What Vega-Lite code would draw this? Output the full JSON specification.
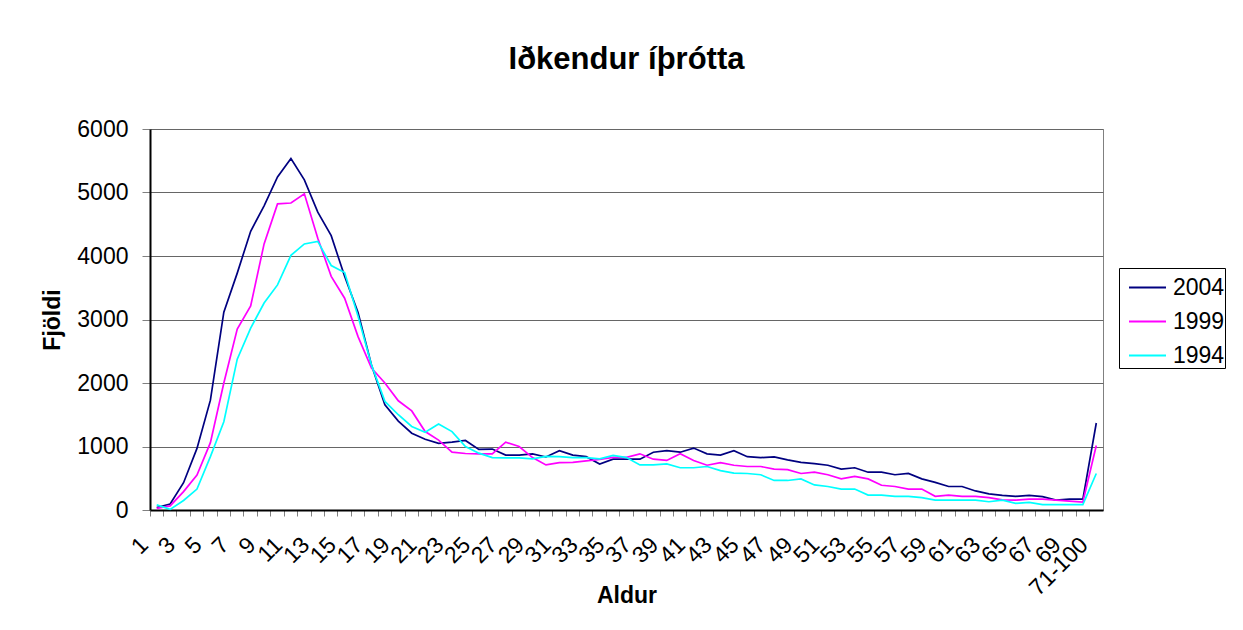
{
  "$schema": "https://vega.github.io/schema/vega-lite/v6.json",
  "width": 953,
  "height": 381,
  "autosize": "none",
  "padding": {"left": 150, "top": 129, "right": 140, "bottom": 120},
  "background": "white",
  "config": {
    "font": "Liberation Sans",
    "view": {"stroke": "#808080", "strokeWidth": 1}
  },
  "title": {
    "text": "Iðkendur íþrótta",
    "font": "Liberation Sans",
    "fontSize": 31,
    "fontWeight": "bold",
    "color": "black",
    "anchor": "middle",
    "baseline": "alphabetic",
    "offset": 18
  },
  "data": {
    "values": [
      {"Aldur": "1", "2004": 40, "1999": 25, "1994": 80},
      {"Aldur": "2", "2004": 95, "1999": 65, "1994": 10},
      {"Aldur": "3", "2004": 430, "1999": 290, "1994": 150},
      {"Aldur": "4", "2004": 970, "1999": 550, "1994": 330},
      {"Aldur": "5", "2004": 1730, "1999": 1060, "1994": 840},
      {"Aldur": "6", "2004": 3115, "1999": 2000, "1994": 1390},
      {"Aldur": "7", "2004": 3730, "1999": 2850, "1994": 2375},
      {"Aldur": "8", "2004": 4390, "1999": 3215, "1994": 2865},
      {"Aldur": "9", "2004": 4790, "1999": 4190, "1994": 3260},
      {"Aldur": "10", "2004": 5245, "1999": 4820, "1994": 3545},
      {"Aldur": "11", "2004": 5535, "1999": 4835, "1994": 4010},
      {"Aldur": "12", "2004": 5200, "1999": 4980, "1994": 4190},
      {"Aldur": "13", "2004": 4690, "1999": 4280, "1994": 4230},
      {"Aldur": "14", "2004": 4320, "1999": 3680, "1994": 3850},
      {"Aldur": "15", "2004": 3680, "1999": 3335, "1994": 3740},
      {"Aldur": "16", "2004": 3110, "1999": 2730, "1994": 3050},
      {"Aldur": "17", "2004": 2285, "1999": 2235, "1994": 2285},
      {"Aldur": "18", "2004": 1655, "1999": 2000, "1994": 1710},
      {"Aldur": "19", "2004": 1400, "1999": 1720, "1994": 1500},
      {"Aldur": "20", "2004": 1210, "1999": 1560, "1994": 1315},
      {"Aldur": "21", "2004": 1115, "1999": 1235, "1994": 1225},
      {"Aldur": "22", "2004": 1050, "1999": 1100, "1994": 1355},
      {"Aldur": "23", "2004": 1070, "1999": 910, "1994": 1235},
      {"Aldur": "24", "2004": 1095, "1999": 890, "1994": 1000},
      {"Aldur": "25", "2004": 955, "1999": 885, "1994": 895},
      {"Aldur": "26", "2004": 960, "1999": 885, "1994": 825},
      {"Aldur": "27", "2004": 865, "1999": 1068, "1994": 820},
      {"Aldur": "28", "2004": 865, "1999": 1000, "1994": 820},
      {"Aldur": "29", "2004": 885, "1999": 825, "1994": 805},
      {"Aldur": "30", "2004": 835, "1999": 710, "1994": 845},
      {"Aldur": "31", "2004": 935, "1999": 745, "1994": 840},
      {"Aldur": "32", "2004": 865, "1999": 750, "1994": 825},
      {"Aldur": "33", "2004": 840, "1999": 775, "1994": 825},
      {"Aldur": "34", "2004": 725, "1999": 795, "1994": 805},
      {"Aldur": "35", "2004": 800, "1999": 830, "1994": 860},
      {"Aldur": "36", "2004": 800, "1999": 830, "1994": 825},
      {"Aldur": "37", "2004": 800, "1999": 885, "1994": 710},
      {"Aldur": "38", "2004": 910, "1999": 800, "1994": 710},
      {"Aldur": "39", "2004": 935, "1999": 780, "1994": 725},
      {"Aldur": "40", "2004": 910, "1999": 885, "1994": 665},
      {"Aldur": "41", "2004": 975, "1999": 780, "1994": 665},
      {"Aldur": "42", "2004": 885, "1999": 705, "1994": 685},
      {"Aldur": "43", "2004": 865, "1999": 745, "1994": 620},
      {"Aldur": "44", "2004": 935, "1999": 705, "1994": 580},
      {"Aldur": "45", "2004": 840, "1999": 685, "1994": 575},
      {"Aldur": "46", "2004": 825, "1999": 685, "1994": 555},
      {"Aldur": "47", "2004": 835, "1999": 645, "1994": 465},
      {"Aldur": "48", "2004": 790, "1999": 635, "1994": 465},
      {"Aldur": "49", "2004": 750, "1999": 575, "1994": 490},
      {"Aldur": "50", "2004": 730, "1999": 595, "1994": 395},
      {"Aldur": "51", "2004": 705, "1999": 555, "1994": 370},
      {"Aldur": "52", "2004": 645, "1999": 490, "1994": 330},
      {"Aldur": "53", "2004": 665, "1999": 530, "1994": 330},
      {"Aldur": "54", "2004": 595, "1999": 490, "1994": 235},
      {"Aldur": "55", "2004": 595, "1999": 390, "1994": 235},
      {"Aldur": "56", "2004": 555, "1999": 370, "1994": 215},
      {"Aldur": "57", "2004": 575, "1999": 330, "1994": 215},
      {"Aldur": "58", "2004": 490, "1999": 330, "1994": 195},
      {"Aldur": "59", "2004": 435, "1999": 215, "1994": 155},
      {"Aldur": "60", "2004": 370, "1999": 235, "1994": 155},
      {"Aldur": "61", "2004": 370, "1999": 215, "1994": 155},
      {"Aldur": "62", "2004": 300, "1999": 215, "1994": 155},
      {"Aldur": "63", "2004": 255, "1999": 195, "1994": 130},
      {"Aldur": "64", "2004": 230, "1999": 160, "1994": 155},
      {"Aldur": "65", "2004": 215, "1999": 155, "1994": 105},
      {"Aldur": "66", "2004": 230, "1999": 170, "1994": 120},
      {"Aldur": "67", "2004": 210, "1999": 170, "1994": 85},
      {"Aldur": "68", "2004": 155, "1999": 155, "1994": 85},
      {"Aldur": "69", "2004": 170, "1999": 140, "1994": 85},
      {"Aldur": "70", "2004": 170, "1999": 125, "1994": 85},
      {"Aldur": "71-100", "2004": 1370, "1999": 1015, "1994": 575}
    ]
  },
  "transform": [{"fold": ["2004", "1999", "1994"], "as": ["Ár", "Fjöldi"]}],
  "mark": {"type": "line", "strokeWidth": 1.7},
  "encoding": {
    "x": {
      "field": "Aldur",
      "type": "nominal",
      "sort": null,
      "scale": {"type": "band", "paddingInner": 0, "paddingOuter": 0},
      "axis": {
        "title": "Aldur",
        "titleFontSize": 23,
        "titleFontWeight": "bold",
        "titleColor": "black",
        "titleBaseline": "top",
        "titleY": 74,
        "labelAngle": -45,
        "labelAlign": "right",
        "labelBaseline": "middle",
        "labelFontSize": 23,
        "labelColor": "black",
        "labelOffset": -12,
        "labelPadding": 25,
        "labelOverlap": false,
        "labelBound": false,
        "labelFlush": false,
        "labelExpr": "toNumber(datum.value) % 2 == 0 ? '' : datum.label",
        "bandPosition": 0,
        "tickSize": 6,
        "tickColor": "#808080",
        "tickWidth": 1,
        "domainColor": "black",
        "domainWidth": 2,
        "grid": false
      }
    },
    "y": {
      "field": "Fjöldi",
      "type": "quantitative",
      "scale": {"domain": [0, 6000], "nice": false},
      "axis": {
        "title": "Fjöldi",
        "titleFontSize": 23,
        "titleFontWeight": "bold",
        "titleColor": "black",
        "titlePadding": 12,
        "values": [0, 1000, 2000, 3000, 4000, 5000, 6000],
        "format": "d",
        "labelFontSize": 23,
        "labelColor": "black",
        "labelPadding": 14,
        "tickSize": 8,
        "tickColor": "#808080",
        "domainColor": "black",
        "domainWidth": 2,
        "grid": true,
        "gridColor": "#666666",
        "gridWidth": 1,
        "gridOpacity": 1
      }
    },
    "color": {
      "field": "Ár",
      "type": "nominal",
      "scale": {"domain": ["2004", "1999", "1994"], "range": ["#000080", "#FF00FF", "#00FFFF"]},
      "legend": {
        "title": null,
        "orient": "none",
        "legendX": 969,
        "legendY": 139,
        "strokeColor": "black",
        "fillColor": "white",
        "padding": 0,
        "symbolOffset": 9,
        "symbolType": "stroke",
        "symbolSize": 1369,
        "symbolStrokeWidth": 2,
        "labelFontSize": 23,
        "labelColor": "black",
        "labelOffset": 6
      }
    }
  }
}
